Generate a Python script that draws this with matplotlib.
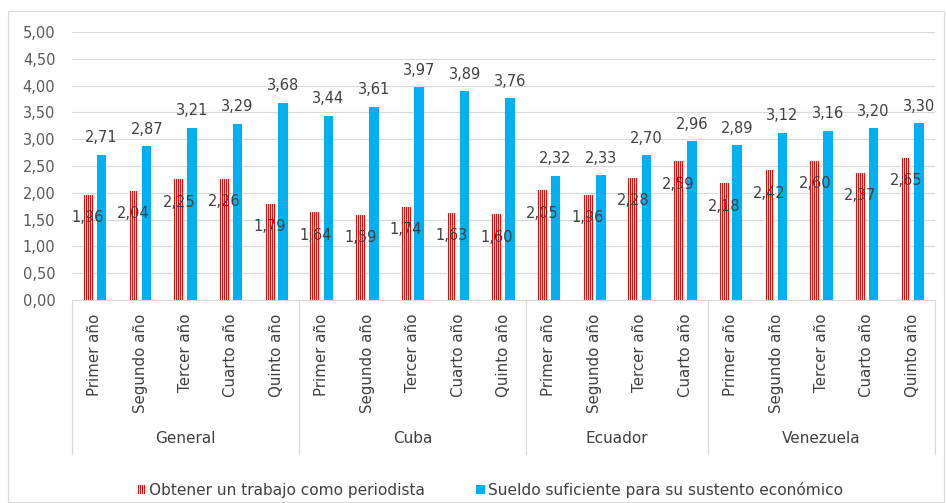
import matplotlib
matplotlib.use("Agg")
import matplotlib.pyplot as plt
import matplotlib.hatch as mhatch
from matplotlib.path import Path
from matplotlib.patches import Rectangle, Patch
from matplotlib.lines import Line2D
import matplotlib.transforms as mtrans
import numpy as np

groups = ["General", "Cuba", "Ecuador", "Venezuela"]
years_general = ["Primer año", "Segundo año", "Tercer año", "Cuarto año", "Quinto año"]
years_cuba = ["Primer año", "Segundo año", "Tercer año", "Cuarto año", "Quinto año"]
years_ecuador = ["Primer año", "Segundo año", "Tercer año", "Cuarto año"]
years_venezuela = ["Primer año", "Segundo año", "Tercer año", "Cuarto año", "Quinto año"]

trabajo_general = [1.96, 2.04, 2.25, 2.26, 1.79]
trabajo_cuba = [1.64, 1.59, 1.74, 1.63, 1.60]
trabajo_ecuador = [2.05, 1.96, 2.28, 2.59]
trabajo_venezuela = [2.18, 2.42, 2.60, 2.37, 2.65]

sueldo_general = [2.71, 2.87, 3.21, 3.29, 3.68]
sueldo_cuba = [3.44, 3.61, 3.97, 3.89, 3.76]
sueldo_ecuador = [2.32, 2.33, 2.70, 2.96]
sueldo_venezuela = [2.89, 3.12, 3.16, 3.20, 3.30]

series_names = ["Obtener un trabajo como periodista",
                "Sueldo suficiente para su sustento económico"]
yticks = [0, 0.5, 1, 1.5, 2, 2.5, 3, 3.5, 4, 4.5, 5]

group_years = [years_general, years_cuba, years_ecuador, years_venezuela]
trabajo = trabajo_general + trabajo_cuba + trabajo_ecuador + trabajo_venezuela
sueldo = sueldo_general + sueldo_cuba + sueldo_ecuador + sueldo_venezuela
labels = [y for g in group_years for y in g]
n = len(labels)
x = np.arange(n)


# vertical stripes aligned to pixel centres (crisp 1px red / 1px white)
def _vertical_pixel_aligned(self, vertices, codes):
    steps = np.linspace(0.0, 1.0, self.num_lines, False)
    steps += 0.25 / self.num_lines
    vertices[0::2, 0] = steps
    vertices[0::2, 1] = 0.0
    vertices[1::2, 0] = steps
    vertices[1::2, 1] = 1.0
    codes[0::2] = Path.MOVETO
    codes[1::2] = Path.LINETO


mhatch.VerticalHatch.set_vertices_and_codes = _vertical_pixel_aligned

DPI = 96
S = 100 / DPI  # keep sizes as designed for 100 dpi
plt.rcParams['hatch.linewidth'] = 0.75
W, H = 946, 503
fig = plt.figure(figsize=(W / DPI, H / DPI), dpi=DPI)

# chart border
fig.patches.append(Rectangle((8 / W, 1 - 502 / H), (944 - 8) / W, (502 - 11) / H,
                             transform=fig.transFigure, fill=False,
                             edgecolor="#d9d9d9", linewidth=0.8 * S))

ax = fig.add_axes([72 / W, 1 - 300 / H, (935 - 72) / W, (300 - 32) / H])
ax.set_xlim(-0.5, n - 0.5)
ax.set_ylim(0, 5)

red = "#ff0000"
blue = "#00b0f0"
bw = 0.21
off = 0.145
hatch = "|" * 8

ax.bar(x - off, trabajo, bw, facecolor="white", edgecolor=red, hatch=hatch,
       linewidth=0, zorder=3)
ax.bar(x + off, sueldo, bw, color=blue, linewidth=0, zorder=3)

lab_col = "#404040"
for xi, v in zip(x, trabajo):
    ax.annotate(f"{v:.2f}".replace(".", ","), (xi - off, v), xytext=(0, -16.5 * S),
                textcoords="offset points", ha="center", va="center",
                fontsize=10.5 * S, color=lab_col, zorder=4)
for xi, v in zip(x, sueldo):
    ax.annotate(f"{v:.2f}".replace(".", ","), (xi + off, v), xytext=(0, 12.2 * S),
                textcoords="offset points", ha="center", va="center",
                fontsize=10.5 * S, color=lab_col, zorder=4)

ax.set_yticks(yticks)
ax.set_yticklabels([f"{t:.2f}".replace(".", ",") for t in yticks])
ax.grid(axis="y", color="#d9d9d9", linewidth=0.8 * S, zorder=0)
ax.set_axisbelow(True)
for s in ["left", "right", "top"]:
    ax.spines[s].set_visible(False)
ax.spines["bottom"].set_color("#d9d9d9")
ax.spines["bottom"].set_linewidth(0.8 * S)
ax.tick_params(axis="y", length=0, pad=12 * S, labelsize=10.5 * S, labelcolor="#595959")
ax.set_xticks(x)
ax.set_xticklabels(labels, rotation=90)
ax.tick_params(axis="x", length=0, pad=10 * S, labelsize=10.8 * S, labelcolor="#404040")

# group dividers and labels
trans = mtrans.blended_transform_factory(ax.transData, ax.transAxes)
bounds = [-0.5]
for g in group_years:
    bounds.append(bounds[-1] + len(g))
for b in bounds:
    ax.add_line(Line2D([b, b], [0, -0.575], transform=trans, color="#d9d9d9",
                       linewidth=0.8 * S, clip_on=False))
for i, g in enumerate(groups):
    c = (bounds[i] + bounds[i + 1]) / 2
    ax.text(c, -0.515, g, transform=trans, ha="center", va="center",
            fontsize=11 * S, color="#404040")

handles = [Patch(facecolor="white", edgecolor=red, hatch=hatch, linewidth=0),
           Patch(facecolor=blue, edgecolor=blue, linewidth=0)]
fig.legend(handles, series_names, loc="center", bbox_to_anchor=(490 / W, 1 - 490 / H),
           ncol=2, frameon=False, fontsize=11.1 * S, labelcolor="#404040",
           handlelength=0.6, handleheight=0.6, handletextpad=0.2, columnspacing=3.3)

fig.savefig("out.png", dpi=DPI)
